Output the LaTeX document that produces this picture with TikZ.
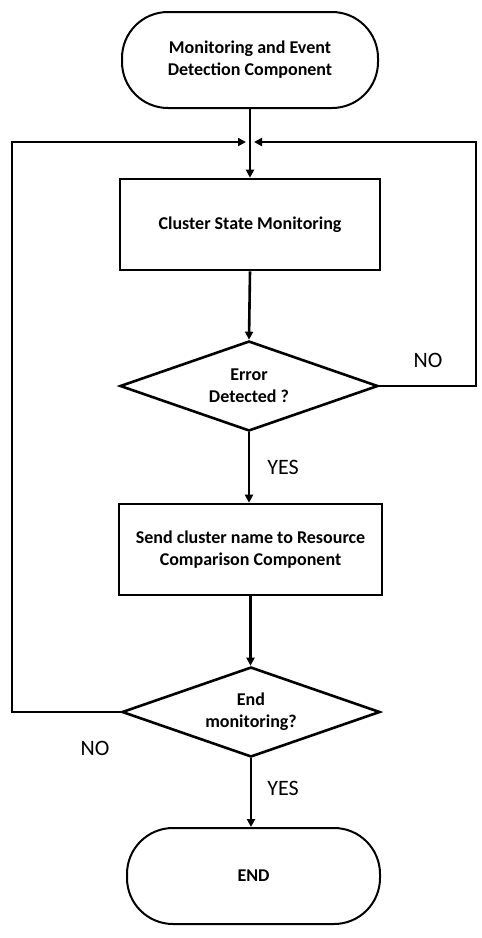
\documentclass[tikz,border=0pt]{standalone}
\usepackage{fontspec}
\setmainfont{Carlito}
\usetikzlibrary{shapes.geometric,arrows.meta}
\begin{document}
\begin{tikzpicture}[x=1pt,y=-1pt,
  terminal/.style={draw,line width=2pt,rounded corners=46pt,minimum width=256pt,minimum height=96pt,inner sep=0pt,align=center,font=\bfseries\fontsize{18}{22}\selectfont},
  procbox/.style={draw,line width=2.6pt,minimum width=260pt,minimum height=91pt,inner sep=0pt,align=center,font=\bfseries\fontsize{18}{22}\selectfont},
  decision/.style={draw,diamond,line width=2.6pt,minimum width=258pt,minimum height=90pt,aspect=2.87,inner sep=0pt,align=center,font=\bfseries\fontsize{18}{22}\selectfont},
  flow/.style={line width=2.6pt,-{Triangle[length=8pt,width=8pt]}},
  lab/.style={font=\fontsize{22}{24}\selectfont}]
\useasboundingbox (0,0) rectangle (482,938);
\node[terminal] (start) at (250,60) {Monitoring and Event\\Detection Component};
\node[procbox] (csm) at (250,224.5) {Cluster State Monitoring};
\node[decision] (d1) at (249,386) {Error\\Detected ?};
\node[procbox,minimum width=263pt] (send) at (250.5,549.5) {Send cluster name to Resource\\Comparison Component};
\node[decision] (d2) at (251,712) {End\\monitoring?};
\node[terminal,minimum width=253pt] (end) at (253.5,876) {END};
\coordinate (m) at (250,142);
\coordinate (lc) at (12,142);
\coordinate (rc) at (476,142);
\draw[flow] (start.south) -- (csm.north);
\draw[flow] (csm.south) -- (d1.north);
\draw[flow] (d1.south) -- (d1.south |- send.north);
\draw[flow] (send.south) -- (send.south |- d2.north);
\draw[flow] (d2.south) -- (d2.south |- end.north);
\draw[flow] (d1.east) -| (rc) -- ([xshift=4pt]m);
\draw[flow] (d2.west) -| (lc) -- ([xshift=-4pt]m);
\node[lab] (no1) at (428,360) {NO};
\node[lab] (yes1) at (283,467) {YES};
\node[lab] (no2) at (95,748) {NO};
\node[lab] (yes2) at (283,788) {YES};
\end{tikzpicture}
\end{document}
